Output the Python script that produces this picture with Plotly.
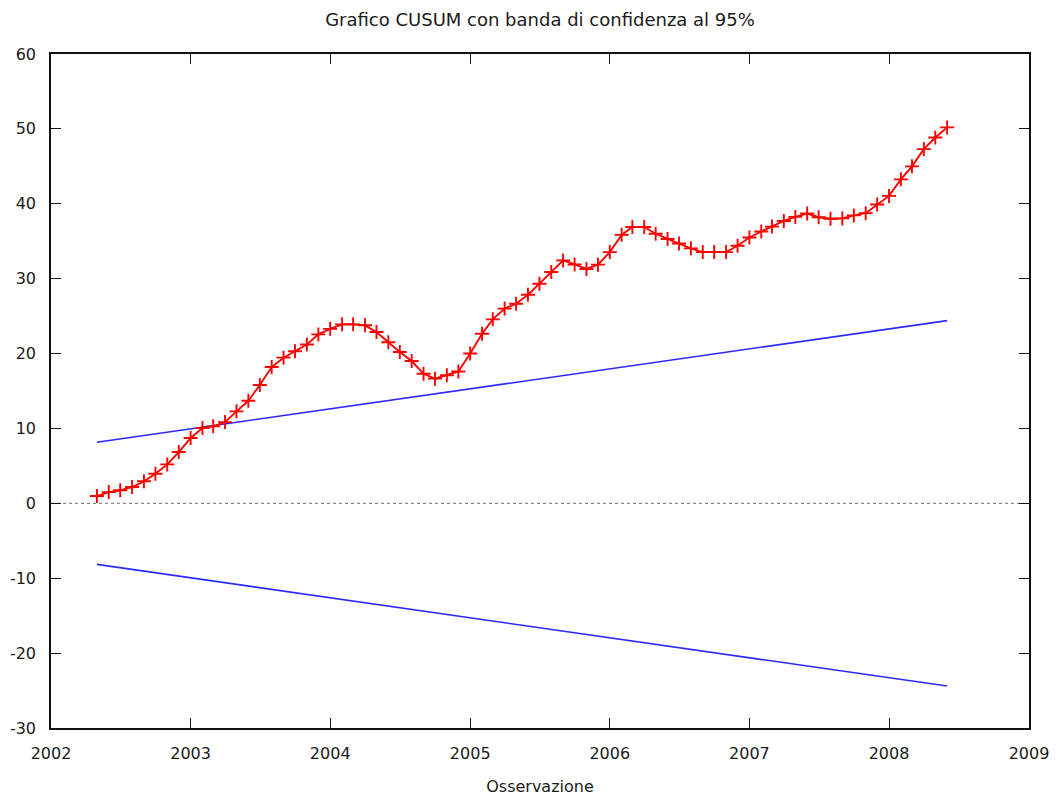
import pandas as pd
import plotly.graph_objects as go

# Monthly observations, May 2002 – June 2008
obs_start = "2002-05-01"
n_obs = 74
cusum = [
    0.97, 1.5, 1.74, 2.18, 2.94, 3.96, 5.2, 6.85, 8.72, 10.05,
    10.28, 10.85, 12.28, 13.7, 15.8, 18.2, 19.45, 20.3, 21.2, 22.56,
    23.3, 23.9, 23.9, 23.77, 22.87, 21.5, 20.2, 19.0, 17.3, 16.65,
    17.1, 17.6, 20.0, 22.65, 24.57, 26.0, 26.66, 27.86, 29.33, 30.9,
    32.44, 31.9, 31.3, 31.87, 33.55, 35.85, 36.9, 36.9, 36.0, 35.3,
    34.7, 34.05, 33.55, 33.55, 33.55, 34.4, 35.5, 36.3, 36.95, 37.7,
    38.25, 38.7, 38.2, 38.0, 38.05, 38.45, 38.75, 39.9, 41.05, 43.26,
    45.0, 47.3, 48.85, 50.2,
]

# 95% confidence band: value at the first and the last observation
band_upper = [8.15, 24.4]
band_lower = [-8.15, -24.4]

year_ticks = ["2002", "2003", "2004", "2005", "2006", "2007", "2008", "2009"]
y_ticks = [-30, -20, -10, 0, 10, 20, 30, 40, 50, 60]
y_tick_text = ["-30", "-20", "-10", "0", "10", "20", "30", "40", "50", "60"]

dates = pd.date_range(obs_start, periods=n_obs, freq="MS")
band_x = [dates[0], dates[-1]]

FONT = "DejaVu Sans"
TXT = "#1a1a1a"

fig = go.Figure()

fig.add_trace(go.Scatter(
    x=band_x, y=band_upper, mode="lines",
    line=dict(color="#2a2aff", width=1.6), hoverinfo="skip", showlegend=False,
))
fig.add_trace(go.Scatter(
    x=band_x, y=band_lower, mode="lines",
    line=dict(color="#2a2aff", width=1.6), hoverinfo="skip", showlegend=False,
))
fig.add_trace(go.Scatter(
    x=dates, y=cusum, mode="lines+markers",
    line=dict(color="#ff0000", width=1.9),
    marker=dict(symbol="cross-thin", size=10, line=dict(color="#ff0000", width=1.9)),
    showlegend=False,
))

# dotted zero axis
fig.add_shape(type="line", xref="paper", x0=0, x1=1, yref="y", y0=0, y1=0,
              line=dict(color="#888888", width=1.2, dash="dot"), layer="below")

fig.update_layout(
    width=1060, height=796,
    margin=dict(l=51, r=31, t=54, b=68),
    paper_bgcolor="white", plot_bgcolor="white",
    font=dict(family=FONT, size=15, color=TXT),
    title=dict(
        text="Grafico CUSUM con banda di confidenza al 95%",
        x=0.5, xref="paper", xanchor="center",
        y=1 - 20 / 796, yref="container", yanchor="middle",
        font=dict(family=FONT, size=18, color=TXT),
    ),
    xaxis=dict(
        type="date",
        range=["2002-01-01", "2009-01-01"],
        tickvals=[f"{y}-01-01" for y in year_ticks],
        ticktext=year_ticks,
        ticks="inside", ticklen=10, tickwidth=1.2, tickcolor="#111",
        showline=True, linecolor="#111", linewidth=1.5, mirror="allticks",
        showgrid=False, zeroline=False, automargin=False,
        ticklabelstandoff=10,
        tickfont=dict(family=FONT, size=16, color=TXT),
        title=dict(text="Osservazione", standoff=22,
                   font=dict(family=FONT, size=16, color=TXT)),
    ),
    yaxis=dict(
        range=[-30, 60],
        tickvals=y_ticks,
        ticktext=y_tick_text,
        ticks="inside", ticklen=10, tickwidth=1.2, tickcolor="#111",
        showline=True, linecolor="#111", linewidth=1.5, mirror="allticks",
        showgrid=False, zeroline=False, automargin=False,
        ticklabelstandoff=10,
        tickfont=dict(family=FONT, size=16, color=TXT),
    ),
)

fig.write_html("out.html")
